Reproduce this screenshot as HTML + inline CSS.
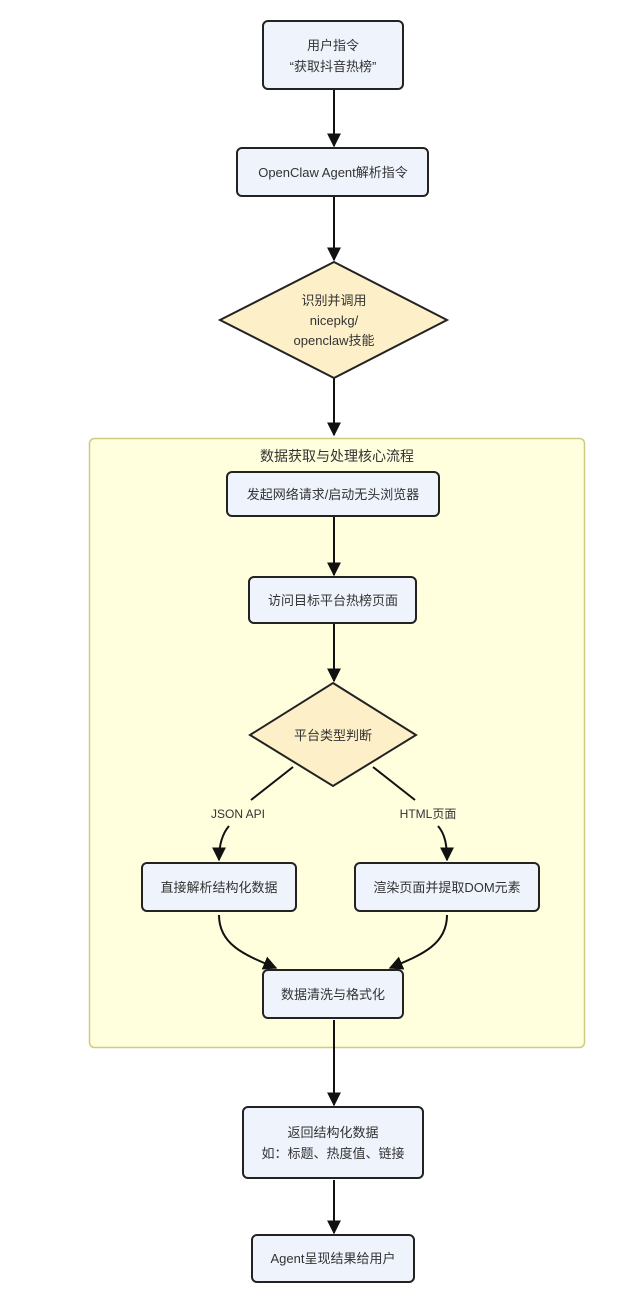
<!DOCTYPE html>
<html><head><meta charset="utf-8"><style>
body{margin:0;background:#fff;}
svg text{font-family:"Liberation Sans","Noto Sans CJK SC",sans-serif;fill:#333;}
</style></head><body>
<svg width="624" height="1298" viewBox="0 0 624 1298" xmlns="http://www.w3.org/2000/svg">
<defs><marker id="a" viewBox="0 0 10 10" refX="9" refY="5" markerWidth="7" markerHeight="7" orient="auto"><path d="M0,0L10,5L0,10z" fill="#111"/></marker></defs>
<rect x="89.5" y="438.5" width="495" height="609" rx="5" fill="#ffffde" stroke="#cccc80" stroke-width="1.5"/>
<text x="337" y="461" font-size="14" text-anchor="middle">数据获取与处理核心流程</text>
<g stroke="#111" stroke-width="2" fill="none">
<path d="M334 89V146" marker-end="url(#a)"/>
<path d="M334 196V260" marker-end="url(#a)"/>
<path d="M334 378V435" marker-end="url(#a)"/>
<path d="M334 516V575" marker-end="url(#a)"/>
<path d="M334 623V681" marker-end="url(#a)"/>
<path d="M293 767L251 800"/>
<path d="M229 826C222 834 219 845 219 860" marker-end="url(#a)"/>
<path d="M373 767L415 800"/>
<path d="M438 826C445 834 447 845 447 860" marker-end="url(#a)"/>
<path d="M219 915C219 945 245 955 276 968" marker-end="url(#a)"/>
<path d="M447 915C447 945 421 955 390 968" marker-end="url(#a)"/>
<path d="M334 1020V1105" marker-end="url(#a)"/>
<path d="M334 1180V1233" marker-end="url(#a)"/>
</g>
<g fill="#eef3fc" stroke="#222" stroke-width="2">
<rect x="263" y="21" width="140" height="68" rx="5"/>
<rect x="237" y="148" width="191" height="48" rx="5"/>
<rect x="227" y="472" width="212" height="44" rx="5"/>
<rect x="249" y="577" width="167" height="46" rx="5"/>
<rect x="142" y="863" width="154" height="48" rx="5"/>
<rect x="355" y="863" width="184" height="48" rx="5"/>
<rect x="263" y="970" width="140" height="48" rx="5"/>
<rect x="243" y="1107" width="180" height="71" rx="5"/>
<rect x="252" y="1235" width="162" height="47" rx="5"/>
</g>
<g fill="#fdefc8" stroke="#222" stroke-width="2">
<path d="M334 262L447 320L334 378L220 320Z"/>
<path d="M333 683L416 735L333 786L250 735Z"/>
</g>
<g font-size="13" text-anchor="middle">
<text x="333" y="50">用户指令</text>
<text x="333" y="71">“获取抖音热榜”</text>
<text x="333" y="177">OpenClaw Agent解析指令</text>
<text x="334" y="305">识别并调用</text>
<text x="334" y="325">nicepkg/</text>
<text x="334" y="345">openclaw技能</text>
<text x="333" y="499">发起网络请求/启动无头浏览器</text>
<text x="333" y="605">访问目标平台热榜页面</text>
<text x="333" y="740">平台类型判断</text>
<text x="219" y="892">直接解析结构化数据</text>
<text x="447" y="892">渲染页面并提取DOM元素</text>
<text x="333" y="999">数据清洗与格式化</text>
<text x="333" y="1137">返回结构化数据</text>
<text x="333" y="1158">如：标题、热度值、链接</text>
<text x="333" y="1263">Agent呈现结果给用户</text>
<text x="238" y="818" font-size="12" fill="#555">JSON API</text>
<text x="428" y="818" font-size="12" fill="#555">HTML页面</text>
</g>
</svg>
</body></html>
